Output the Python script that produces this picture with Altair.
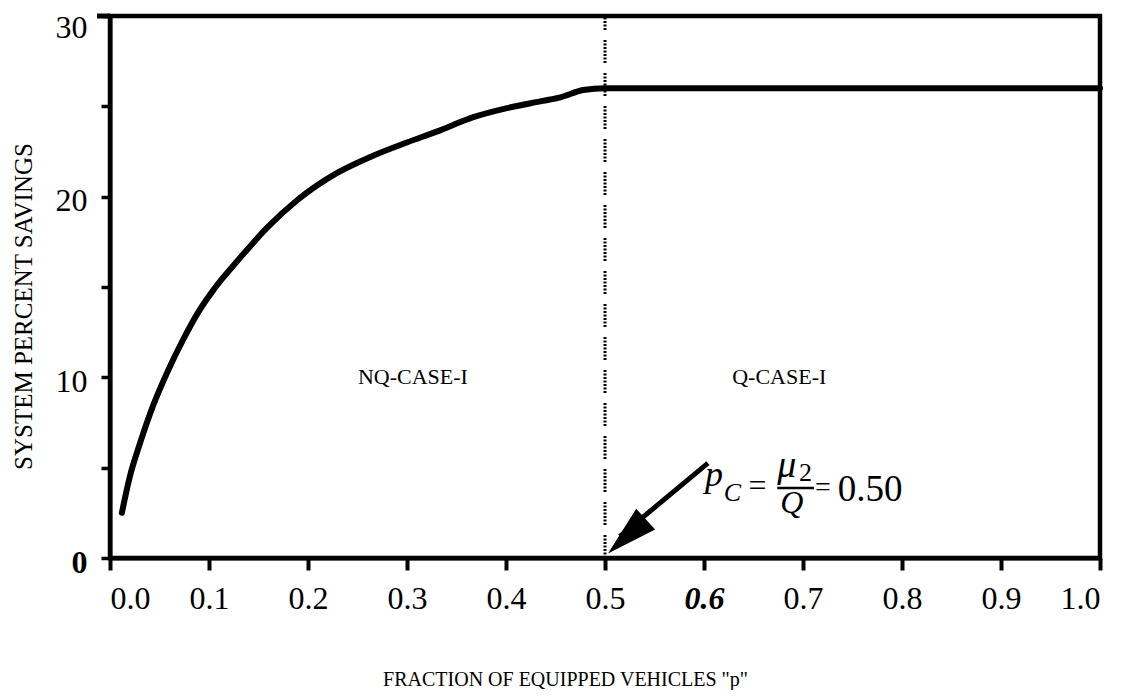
import altair as alt
import pandas as pd

# ---- data ----
fraction_p = [0.012, 0.020, 0.030, 0.044, 0.058, 0.074, 0.088, 0.104, 0.114, 0.128,
              0.159, 0.189, 0.229, 0.263, 0.300, 0.330, 0.367, 0.401, 0.437, 0.455,
              0.478, 0.500, 1.000]
savings = [2.5, 4.5, 6.3, 8.5, 10.3, 12.1, 13.5, 14.8, 15.5, 16.4,
           18.3, 19.8, 21.3, 22.2, 23.0, 23.6, 24.4, 24.9, 25.3, 25.5,
           25.9, 26.0, 26.0]
x_ticks = [0.0, 0.1, 0.2, 0.3, 0.4, 0.5, 0.6, 0.7, 0.8, 0.9, 1.0]
y_ticks = [0, 5, 10, 15, 20, 25, 30]
case_labels = ["NQ-CASE-I", "Q-CASE-I"]
case_x = [0.306, 0.676]
case_y = [10, 10]
p_critical = 0.5

FONT = "Liberation Serif"

curve_df = pd.DataFrame({"p": fraction_p, "s": savings})
case_df = pd.DataFrame({"label": case_labels, "x": case_x, "y": case_y})

xscale = alt.Scale(domain=[0, 1], nice=False, zero=False)
yscale = alt.Scale(domain=[0, 30], nice=False, zero=False)

x_axis = alt.Axis(
    values=x_ticks, format=".1f", grid=False,
    labelFont=FONT, labelFontSize=32, labelColor="black", labelPadding=13,
    labelFontWeight={"condition": {"test": "abs(datum.value - 0.6) < 0.001", "value": "bold"}, "value": "normal"},
    labelFontStyle={"condition": {"test": "abs(datum.value - 0.6) < 0.001", "value": "italic"}, "value": "normal"},
    domainColor="black", domainWidth=4, tickColor="black", tickWidth=4, tickSize=12,
    title='FRACTION OF EQUIPPED VEHICLES "p"', titleFont=FONT, titleFontSize=20,
    titleFontWeight="normal", titleColor="black", titleX=455, titleY=121, titleBaseline="middle",
)
y_axis = alt.Axis(
    values=y_ticks, grid=False,
    labelExpr="datum.value % 10 == 0 ? datum.label : ''",
    labelFont=FONT, labelFontSize=32, labelColor="black", labelPadding=14,
    labelOffset={"condition": {"test": "datum.value == 30", "value": 11}, "value": 4},
    labelFontWeight={"condition": {"test": "datum.value == 0", "value": "bold"}, "value": "normal"},
    domainColor="black", domainWidth=4, tickColor="black", tickWidth=3.5, tickSize=9,
    title="SYSTEM PERCENT SAVINGS", titleFont=FONT, titleFontSize=25,
    titleFontWeight="normal", titleColor="black", titleX=-87, titleY=290,
    titleBaseline="middle", titleAlign="center", titleAngle=270,
)

base = alt.Chart(curve_df)

curve = base.mark_line(color="black", strokeWidth=6, interpolate="monotone",
                       strokeCap="round", strokeJoin="round").encode(
    x=alt.X("p:Q", scale=xscale, axis=x_axis),
    y=alt.Y("s:Q", scale=yscale, axis=y_axis),
)

dotted = alt.Chart(pd.DataFrame({"p": [p_critical]})).mark_rule(
    color="black", strokeWidth=3,
    strokeDash=[2, 1.5, 2, 1.5, 2, 1.5, 2, 1.5, 2, 1.5, 2, 1.5, 2, 10],
).encode(x="p:Q", y=alt.datum(0), y2=alt.datum(30))

top_tick = alt.Chart(pd.DataFrame({"v": [30]})).mark_rule(color="black", strokeWidth=5).encode(
    y="v:Q", x=alt.value(-13), x2=alt.value(0)
)

cases = alt.Chart(case_df).mark_text(font=FONT, fontSize=22, color="black", align="center",
                                     baseline="middle").encode(
    x="x:Q", y="y:Q", text="label:N"
)

# arrow
arrow_line = alt.Chart(pd.DataFrame({"a": [0]})).mark_rule(color="black", strokeWidth=5).encode(
    x=alt.datum(0.604), y=alt.datum(5.25), x2=alt.datum(0.515), y2=alt.datum(1.2)
)
arrow_head = alt.Chart(pd.DataFrame({"a": [0]})).mark_point(
    shape="M0,0L0.55,2L-0.55,2Z", filled=True, color="black", opacity=1,
    size=2600, angle=227.7, strokeWidth=0,
).encode(x=alt.datum(0.503), y=alt.datum(0.25))


def txt(s, x, y, size, style="normal", align="left"):
    return alt.Chart(pd.DataFrame({"a": [0]})).mark_text(
        text=s, font=FONT, fontSize=size, fontStyle=style, color="black",
        align=align, baseline="alphabetic",
    ).encode(x=alt.datum(x), y=alt.datum(y))


frac_bar = alt.Chart(pd.DataFrame({"a": [0]})).mark_rule(color="black", strokeWidth=2.5).encode(
    x=alt.datum(0.674), x2=alt.datum(0.711), y=alt.datum(3.87)
)

formula = [
    txt("p", 0.601, 3.98, 36, "italic"),
    txt("C", 0.620, 3.15, 26, "italic"),
    txt("=", 0.645, 3.45, 32),
    txt("μ", 0.674, 4.5, 38, "italic"),
    txt("2", 0.696, 4.25, 26),
    frac_bar,
    txt("Q", 0.677, 2.5, 32, "italic"),
    txt("=", 0.712, 3.45, 28),
    txt("0.50", 0.735, 3.15, 37),
]

chart = alt.layer(
    dotted, curve, top_tick, cases, arrow_line, arrow_head, *formula
).properties(
    width=990, height=542,
    padding={"left": 102, "top": 8, "right": 15, "bottom": 132},
    autosize=alt.AutoSizeParams(type="none"),
    background="white",
).configure_view(stroke="black", strokeWidth=4.5)

chart.save("out.html", embed_options={"renderer": "svg", "actions": False})
